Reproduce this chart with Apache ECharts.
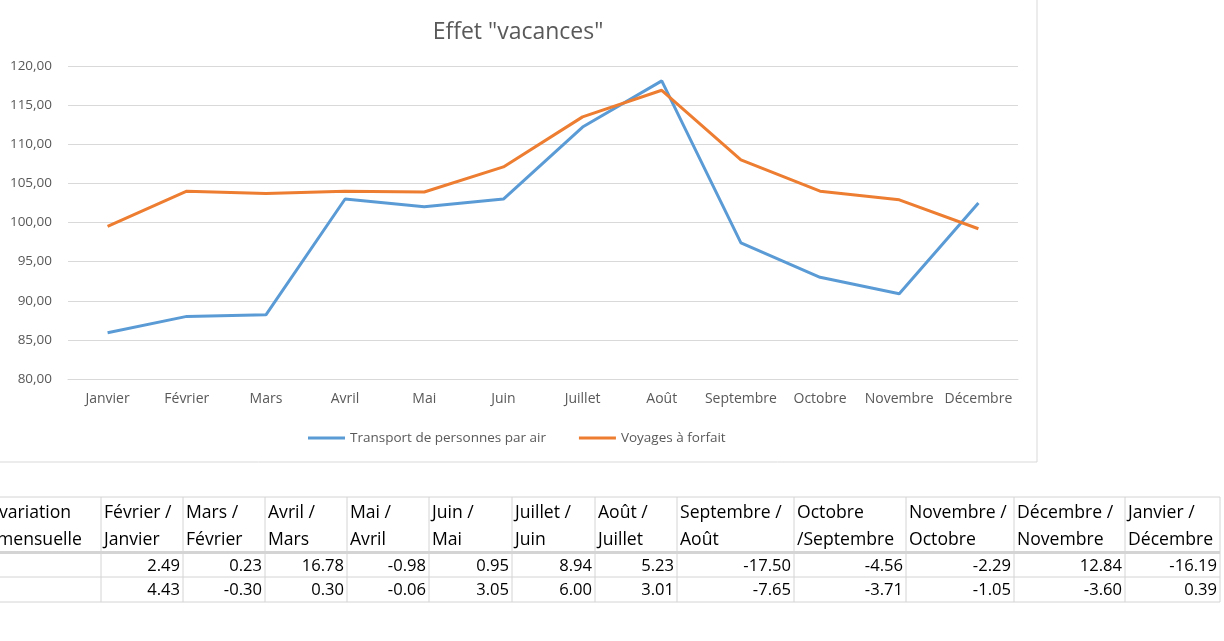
<!DOCTYPE html>
<html>
<head>
<meta charset="utf-8">
<script src="https://cdn.jsdelivr.net/npm/echarts@6/dist/echarts.min.js"></script>
<style>
html,body{margin:0;padding:0;background:#fff;}
#main{width:1224px;height:641px;}
</style>
</head>
<body>
<div id="main"></div>
<script>
// ---- data ----
const months = ['Janvier','Février','Mars','Avril','Mai','Juin','Juillet','Août','Septembre','Octobre','Novembre','Décembre'];
const airTransport = [85.9, 88.0, 88.2, 103.0, 102.0, 103.0, 112.2, 118.1, 97.4, 93.0, 90.9, 102.5];
const packageTours = [99.5, 104.0, 103.7, 104.0, 103.9, 107.1, 113.5, 116.9, 108.0, 104.0, 102.9, 99.2];
const seriesNames = ['Transport de personnes par air', 'Voyages à forfait'];
const titleText = 'Effet "vacances"';

const tableRowLabel = ['variation', 'mensuelle'];
const headerLine1 = ['Février /','Mars /','Avril /','Mai /','Juin /','Juillet /','Août /','Septembre /','Octobre','Novembre /','Décembre /','Janvier /'];
const headerLine2 = ['Janvier','Février','Mars','Avril','Mai','Juin','Juillet','Août','/Septembre','Octobre','Novembre','Décembre'];
const variationAir = [2.49, 0.23, 16.78, -0.98, 0.95, 8.94, 5.23, -17.50, -4.56, -2.29, 12.84, -16.19];
const variationTours = [4.43, -0.30, 0.30, -0.06, 3.05, 6.00, 3.01, -7.65, -3.71, -1.05, -3.60, 0.39];

// ---- layout (styles only) ----
const colEdges = [-40, 101, 183, 265, 347, 429, 512, 595, 677, 794, 906, 1014, 1125, 1220];
const tableTop = 497, headerBottom = 551, row1Bottom = 577, row2Bottom = 602;
const gridColor = '#d9d9d9';
const textColor = '#595959';
const tableFont = '"Open Sans", sans-serif';
const headFont = '17.6px ' + tableFont;
const numFont = '16.6px ' + tableFont;

const graphics = [];
// chart frame
graphics.push({type:'rect', shape:{x:-10, y:-10, width:1047, height:472}, style:{fill:'none', stroke:'#d9d9d9', lineWidth:1}, silent:true});
// table horizontal lines
[tableTop, row1Bottom, row2Bottom].forEach(y => {
  graphics.push({type:'line', shape:{x1:0, y1:y, x2:colEdges[colEdges.length-1], y2:y}, style:{stroke:'#d4d4d4', lineWidth:1}});
});
graphics.push({type:'rect', shape:{x:0, y:headerBottom, width:colEdges[colEdges.length-1], height:3}, style:{fill:'#d4d4d4'}});
// vertical lines
colEdges.slice(1).forEach(x => {
  graphics.push({type:'line', shape:{x1:x, y1:tableTop, x2:x, y2:row2Bottom}, style:{stroke:'#d4d4d4', lineWidth:1}});
});
// row label
graphics.push({type:'text', x:-1, y:513, style:{text:tableRowLabel[0], font:headFont, fill:'#000', textAlign:'left', textVerticalAlign:'middle'}});
graphics.push({type:'text', x:-3, y:540, style:{text:tableRowLabel[1], font:headFont, fill:'#000', textAlign:'left', textVerticalAlign:'middle'}});
for (let i = 0; i < headerLine1.length; i++) {
  const left = colEdges[i+1], right = colEdges[i+2];
  graphics.push({type:'text', x:left + 3, y:513, style:{text:headerLine1[i], font:headFont, fill:'#000', textAlign:'left', textVerticalAlign:'middle'}});
  graphics.push({type:'text', x:left + 3, y:540, style:{text:headerLine2[i], font:headFont, fill:'#000', textAlign:'left', textVerticalAlign:'middle'}});
  graphics.push({type:'text', x:right - 3, y:566, style:{text:variationAir[i].toFixed(2), font:numFont, fill:'#000', textAlign:'right', textVerticalAlign:'middle'}});
  graphics.push({type:'text', x:right - 3, y:590, style:{text:variationTours[i].toFixed(2), font:numFont, fill:'#000', textAlign:'right', textVerticalAlign:'middle'}});
}

const chart = echarts.init(document.getElementById('main'), null, {renderer:'canvas'});
chart.setOption({
  animation: false,
  backgroundColor: '#fff',
  title: {
    text: titleText, left: 513, top: 16, textAlign: 'center',
    textStyle: {fontFamily: '"Open Sans", sans-serif', fontSize: 23, fontWeight: 'normal', color: textColor}
  },
  legend: {
    data: seriesNames, left: 303, top: 426, icon: 'rect', itemWidth: 37, itemHeight: 3, itemGap: 33,
    textStyle: {fontFamily: '"Open Sans", sans-serif', fontSize: 13.5, color: textColor}
  },
  grid: {left: 68, right: 206, top: 66, bottom: 262, containLabel: false},
  xAxis: {
    type: 'category', data: months, boundaryGap: true,
    axisLine: {show: true, lineStyle: {color: gridColor, width: 1}},
    axisTick: {show: false},
    axisLabel: {color: textColor, fontFamily: '"Open Sans", sans-serif', fontSize: 14, margin: 13, interval: 0}
  },
  yAxis: {
    type: 'value', min: 80, max: 120, interval: 5,
    axisLine: {show: false}, axisTick: {show: false},
    splitLine: {lineStyle: {color: gridColor, width: 1}},
    axisLabel: {color: textColor, fontFamily: '"Open Sans", sans-serif', fontSize: 13.5, margin: 16,
      formatter: v => v.toFixed(2).replace('.', ',')}
  },
  series: [
    {name: seriesNames[0], type: 'line', data: airTransport, symbol: 'none', lineStyle: {color: '#5B9BD5', width: 3}, itemStyle: {color: '#5B9BD5'}},
    {name: seriesNames[1], type: 'line', data: packageTours, symbol: 'none', lineStyle: {color: '#ED7D31', width: 3}, itemStyle: {color: '#ED7D31'}}
  ],
  graphic: graphics
});
</script>
</body>
</html>
